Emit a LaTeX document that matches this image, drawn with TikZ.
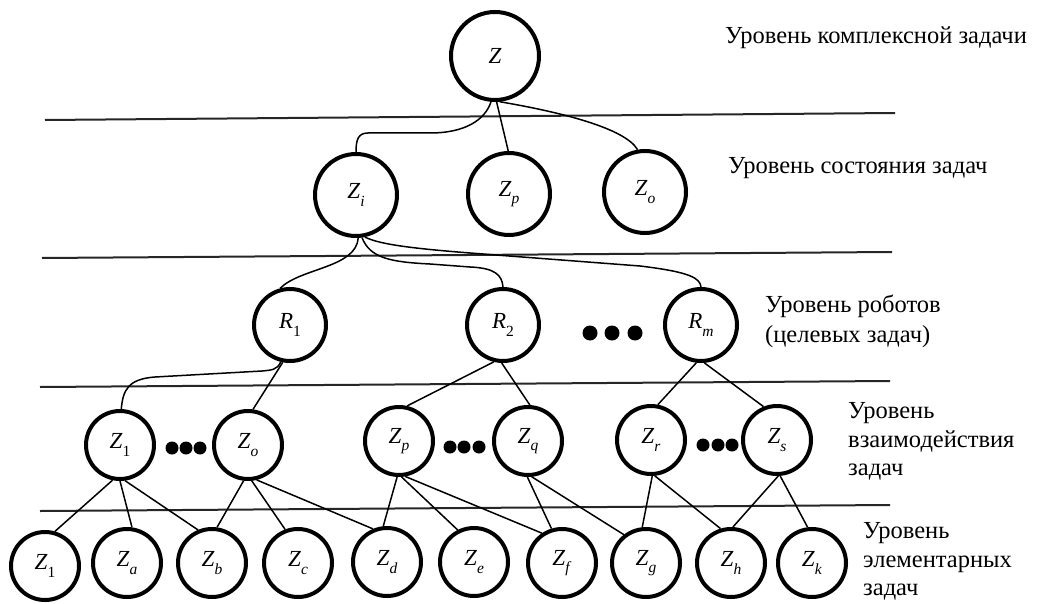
\documentclass[tikz,border=0pt]{standalone}
\usepackage{fontspec}
\setmainfont{Liberation Serif}
\newcommand{\sbs}[1]{\raisebox{-0.32em}{\fontsize{15.5}{15.5}\selectfont #1}}
\begin{document}
\begin{tikzpicture}[x=1pt,y=-1pt,
  nd/.style={circle, draw, line width=4pt, fill=white, inner sep=0pt, font=\fontsize{23}{23}\selectfont},
  big/.style={nd, minimum size=88pt},
  lv2/.style={nd, minimum size=82pt},
  lv3/.style={nd, minimum size=72pt},
  lv4/.style={nd, minimum size=68pt},
  lv5/.style={nd, minimum size=68pt},
  conn/.style={line width=1.5pt},
  sepline/.style={line width=2pt, draw=black!85},
  lvl/.style={anchor=base west, font=\fontsize{24.5}{28}\selectfont, inner sep=0pt},
  bigdot/.style={fill=black}
]
\useasboundingbox (0,0) rectangle (1040,604);

% separators
\draw[sepline] (45,120) -- (895,113);
\draw[sepline] (42,258) -- (892,252);
\draw[sepline] (40,387) -- (890,381);
\draw[sepline] (40,511) -- (890,505);

% nodes
\node[big] (Z) at (495,56) {\textit{Z}};
\node[lv2] (Zi) at (356,195) {\textit{Z}\sbs{\textit{i}}};
\node[lv2] (Zp2) at (509,194) {\textit{Z}\sbs{\textit{p}}};
\node[lv2] (Zo2) at (645,192) {\textit{Z}\sbs{\textit{o}}};

\node[lv3] (R1) at (290,325) {\textit{R}\sbs{1}};
\node[lv3] (R2) at (503,325) {\textit{R}\sbs{2}};
\node[lv3] (Rm) at (701,325) {\textit{R}\sbs{\textit{m}}};

\node[lv4] (Z1a) at (120,445) {\textit{Z}\sbs{1}};
\node[lv4] (Zo) at (248,445) {\textit{Z}\sbs{\textit{o}}};
\node[lv4] (Zp) at (399,441) {\textit{Z}\sbs{\textit{p}}};
\node[lv4] (Zq) at (528,441) {\textit{Z}\sbs{\textit{q}}};
\node[lv4] (Zr) at (651,440) {\textit{Z}\sbs{\textit{r}}};
\node[lv4] (Zs) at (777,440) {\textit{Z}\sbs{\textit{s}}};

\node[lv5] (Z1b) at (45,566) {\textit{Z}\sbs{1}};
\node[lv5] (Za) at (127,563) {\textit{Z}\sbs{\textit{a}}};
\node[lv5] (Zb) at (212,563) {\textit{Z}\sbs{\textit{b}}};
\node[lv5] (Zc) at (298,563) {\textit{Z}\sbs{\textit{c}}};
\node[lv5] (Zd) at (387,562) {\textit{Z}\sbs{\textit{d}}};
\node[lv5] (Ze) at (474,562) {\textit{Z}\sbs{\textit{e}}};
\node[lv5] (Zf) at (562,563) {\textit{Z}\sbs{\textit{f}}};
\node[lv5] (Zg) at (646,563) {\textit{Z}\sbs{\textit{g}}};
\node[lv5] (Zh) at (731,563) {\textit{Z}\sbs{\textit{h}}};
\node[lv5] (Zk) at (812,563) {\textit{Z}\sbs{\textit{k}}};

% dots
\foreach \x in {590,612,635} \fill[bigdot] (\x,333) circle (7.5);
\foreach \x in {172,186,200} \fill[bigdot] (\x,448) circle (6.5);
\foreach \x in {450,464,479} \fill[bigdot] (\x,447) circle (6.5);
\foreach \x in {703,718,732} \fill[bigdot] (\x,445) circle (6.5);

% level 1 -> 2
\draw[conn] (Z.-95) .. controls (485,120) and (465,133) .. (430,133) -- (368,133) .. controls (358,133) and (356,140) .. (Zi.north);
\draw[conn] (Z.-88) -- (Zp2.91);
\draw[conn] (Z.-84) .. controls (560,112) and (625,128) .. (Zo2.100);

% level 2 -> 3
\draw[conn] (Zi.-87) .. controls (356,268) and (300,268) .. (R1.105);
\draw[conn] (Zi.-82) .. controls (370,258) and (390,262) .. (430,264) -- (470,267) .. controls (495,268) and (502,275) .. (R2.north);
\draw[conn] (Zi.-78) .. controls (380,245) and (420,249) .. (470,253) -- (640,266) .. controls (690,272) and (700,278) .. (Rm.north);

% level 3 -> 4
\draw[conn] (R1.-104) .. controls (277,370) and (272,370) .. (262,371) -- (155,377) .. controls (128,379) and (123,390) .. (Z1a.88);
\draw[conn] (R1.-101) -- (Zo.82);
\draw[conn] (R2.-104) -- (Zp.77);
\draw[conn] (R2.-92) -- (Zq.87);
\draw[conn] (Rm.-97) -- (Zr.79);
\draw[conn] (Rm.-85) -- (Zs.112);

% level 4 -> 5
\draw[conn] (Z1a.-102) -- (Z1b.74);
\draw[conn] (Z1a.-90) -- (Za.82);
\draw[conn] (Z1a.-82) -- (Zb.113);
\draw[conn] (Zo.-97) -- (Zb.82);
\draw[conn] (Zo.-84) -- (Zc.111);
\draw[conn] (Zo.-76) -- (Zd.113);
\draw[conn] (Zp.-93) -- (Zd.96);
\draw[conn] (Zp.-86) -- (Ze.117);
\draw[conn] (Zp.-80) -- (Zf.124);
\draw[conn] (Zq.-91) -- (Zf.107);
\draw[conn] (Zq.-84) -- (Zg.128);
\draw[conn] (Zr.-88) -- (Zg.96);
\draw[conn] (Zr.-84) -- (Zh.107);
\draw[conn] (Zs.-88) -- (Zh.87);
\draw[conn] (Zs.-85) -- (Zk.97);

% level labels
\node[lvl] (t1) at (725,44) {Уровень комплексной задачи};
\node[lvl] (t2) at (728,174) {Уровень состояния задач};
\node[lvl] (t3a) at (765,312) {Уровень роботов};
\node[lvl] (t3b) at (765,342) {(целевых задач)};
\node[lvl] (t4a) at (848,418) {Уровень};
\node[lvl] (t4b) at (848,447) {взаимодействия};
\node[lvl] (t4c) at (848,475) {задач};
\node[lvl] (t5a) at (863,538) {Уровень};
\node[lvl] (t5b) at (863,567) {элементарных};
\node[lvl] (t5c) at (863,595) {задач};
\end{tikzpicture}
\end{document}
